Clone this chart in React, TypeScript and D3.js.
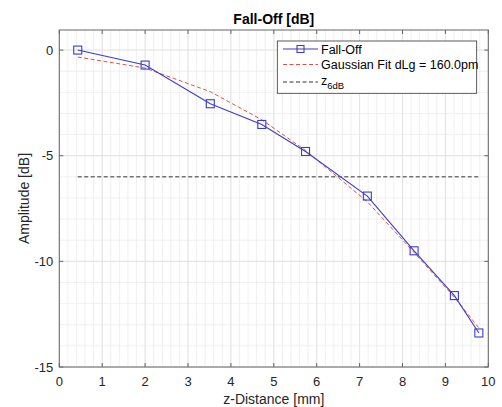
import React from "react";
import * as d3 from "d3";

const zDistance = [0.43, 2.0, 3.52, 4.72, 5.74, 7.18, 8.27, 9.21, 9.78];
const fallOff = [0, -0.71, -2.54, -3.52, -4.8, -6.91, -9.5, -11.62, -13.39];
const gaussFit = [-0.33, -0.85, -1.97, -3.3, -4.75, -7.18, -9.58, -11.7, -13.15];
const z6dBLevel = -6;
const xTicks = [0, 1, 2, 3, 4, 5, 6, 7, 8, 9, 10];
const yTicks = [0, -5, -10, -15];
const legendLabels = ["Fall-Off", "Gaussian Fit dLg = 160.0pm"];

const W = 502, H = 407;
const L = 59.3, R = 488.3, T = 30, B = 367;
const FONT = "'Liberation Sans', Arial, Helvetica, sans-serif";

export default function App() {
  const x = d3.scaleLinear().domain([0, 10]).range([L, R]);
  const y = d3.scaleLinear().domain([-15, 0.95]).range([B, T]);
  const line = d3.line<number>().x((_, i) => x(zDistance[i])).y((d) => y(d));
  const minorX = d3.range(0, 10.001, 0.2);
  const minorY = d3.range(-15, 1, 1);
  const axisCol = "#666";
  const txtCol = "#262626";
  const blue = "#3c3cc8";
  const red = "#e0504a";
  const ms = 8;
  return (
    <svg width={W} height={H} style={{ position: "absolute", left: 0, top: 0, background: "#fff" }}>
      <rect x={0} y={0} width={W} height={H} fill="#fff" />
      {minorX.map((v, i) => (
        <line key={"mx" + i} x1={x(v)} x2={x(v)} y1={T} y2={B} stroke="#ececec" strokeWidth={0.8} />
      ))}
      {minorY.map((v, i) => (
        <line key={"my" + i} x1={L} x2={R} y1={y(v)} y2={y(v)} stroke="#ececec" strokeWidth={0.8} />
      ))}
      {xTicks.map((v) => (
        <line key={"gx" + v} x1={x(v)} x2={x(v)} y1={T} y2={B} stroke="#e0e0e0" strokeWidth={0.8} />
      ))}
      {yTicks.map((v) => (
        <line key={"gy" + v} x1={L} x2={R} y1={y(v)} y2={y(v)} stroke="#e0e0e0" strokeWidth={0.8} />
      ))}
      <line x1={x(zDistance[0])} x2={x(zDistance[zDistance.length - 1])} y1={y(z6dBLevel)} y2={y(z6dBLevel)}
        stroke="#333" strokeWidth={1} strokeDasharray="4,2.5" />
      <path d={line(gaussFit) || ""} fill="none" stroke={red} strokeWidth={1} strokeDasharray="4,2.5" />
      <path d={line(fallOff) || ""} fill="none" stroke={blue} strokeWidth={1.1} />
      {fallOff.map((v, i) => (
        <rect key={"m" + i} x={x(zDistance[i]) - ms / 2} y={y(v) - ms / 2} width={ms} height={ms}
          fill="none" stroke={blue} strokeWidth={1.1} />
      ))}
      <rect x={L} y={T} width={R - L} height={B - T} fill="none" stroke={axisCol} strokeWidth={1} />
      {xTicks.map((v) => (
        <g key={"tx" + v}>
          <line x1={x(v)} x2={x(v)} y1={B} y2={B - 4} stroke={axisCol} />
          <line x1={x(v)} x2={x(v)} y1={T} y2={T + 4} stroke={axisCol} />
          <text x={x(v)} y={B + 19} textAnchor="middle" fontFamily={FONT} fontSize={13} fill={txtCol}>{v}</text>
        </g>
      ))}
      {yTicks.map((v) => (
        <g key={"ty" + v}>
          <line x1={L} x2={L + 4} y1={y(v)} y2={y(v)} stroke={axisCol} />
          <line x1={R} x2={R - 4} y1={y(v)} y2={y(v)} stroke={axisCol} />
          <text x={L - 6} y={y(v) + 4.5} textAnchor="end" fontFamily={FONT} fontSize={13} fill={txtCol}>{v}</text>
        </g>
      ))}
      <text x={(L + R) / 2} y={24} textAnchor="middle" fontFamily={FONT} fontSize={14} fontWeight="bold" fill="#000">Fall-Off [dB]</text>
      <text x={(L + R) / 2} y={404} textAnchor="middle" fontFamily={FONT} fontSize={14} fill={txtCol}>z-Distance [mm]</text>
      <text transform={`translate(29,${(T + B) / 2}) rotate(-90)`} textAnchor="middle" fontFamily={FONT} fontSize={14} fill={txtCol}>Amplitude [dB]</text>
      <g>
        <rect x={277.3} y={41} width={199.4} height={52.3} fill="#fff" stroke="#333" strokeWidth={0.8} />
        <line x1={283} x2={318} y1={49} y2={49} stroke={blue} strokeWidth={1.1} />
        <rect x={300.5 - 3.5} y={49 - 3.5} width={7} height={7} fill="none" stroke={blue} strokeWidth={1.1} />
        <text x={321} y={53.5} fontFamily={FONT} fontSize={12.5} fill="#000">{legendLabels[0]}</text>
        <line x1={283} x2={318} y1={64.5} y2={64.5} stroke={red} strokeWidth={1} strokeDasharray="4,2.5" />
        <text x={321} y={69} fontFamily={FONT} fontSize={12.5} fill="#000">{legendLabels[1]}</text>
        <line x1={283} x2={318} y1={82} y2={82} stroke="#333" strokeWidth={1} strokeDasharray="4,2.5" />
        <text x={321} y={84.5} fontFamily={FONT} fontSize={12.5} fill="#000">z<tspan fontSize={9.5} dy={4}>6dB</tspan></text>
      </g>
    </svg>
  );
}
